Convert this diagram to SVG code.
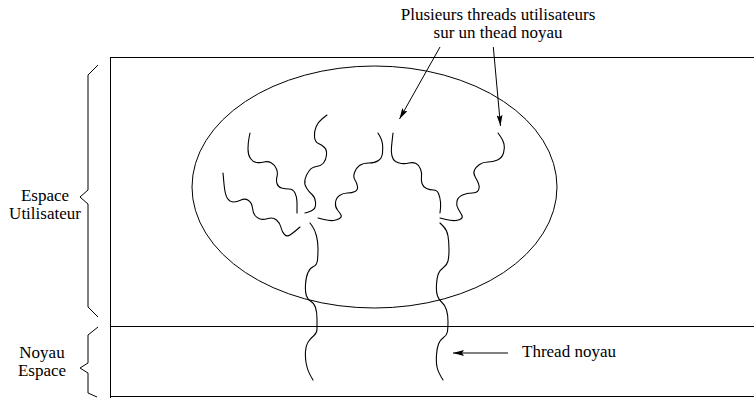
<svg xmlns="http://www.w3.org/2000/svg" width="754" height="398" viewBox="0 0 754 398">
<style>
.ln{fill:none;stroke:#000;stroke-width:1}
.th{fill:none;stroke:#000;stroke-width:1.1;stroke-linecap:round;stroke-linejoin:round}
.tx{font-family:"Liberation Serif","Times New Roman",serif;font-size:17px;fill:#000}
</style>
<defs>
<marker id="ah" markerUnits="userSpaceOnUse" viewBox="0 0 11 6" refX="11" refY="3" markerWidth="11" markerHeight="6" orient="auto">
<path d="M0,0 L11,3 L0,6 L2,3 z" fill="#000"/>
</marker>
</defs>
<rect width="754" height="398" fill="#fff"/>
<g id="frame">
<path class="ln" d="M110.5,57.5 H754 M110.5,57 V398 M110.5,326.5 H754 M110.5,396.5 H754"/>
</g>
<g id="user-space-label">
<path class="ln" d="M98,65 L88,75 L88,190 L80,197 L88,204 L88,307 L98,317"/>
<text class="tx" x="45" y="201" text-anchor="middle">Espace</text>
<text class="tx" x="45" y="219" text-anchor="middle">Utilisateur</text>
</g>
<g id="kernel-space-label">
<path class="ln" d="M98,327 L88,335 L88,363 L80,368 L88,373 L88,393 L97,397"/>
<text class="tx" x="42" y="358" text-anchor="middle">Noyau</text>
<text class="tx" x="42" y="376" text-anchor="middle">Espace</text>
</g>
<g id="process">
<ellipse class="ln" cx="374.5" cy="187" rx="182.5" ry="121"/>
</g>
<g id="user-threads">
<path class="th" d="M223,173 L224,184 Q225,195 227.5,198.5 Q230,202 233.5,202 Q237,202 241,200 Q245,198 248.5,200.5 Q252,203 252.5,208 Q253,213 255,215.5 Q257,218 260,219 Q263,220 268,218.5 Q273,217 276.5,220 Q280,223 281,227.5 Q282,232 284.5,234.5 Q287,237 290,235 Q293,233 296.5,230 L300,227"/>
<path class="th" d="M250,133 L249,138 Q248,143 248,149 Q248,155 250.5,158.5 Q253,162 256.5,162.5 Q260,163 264,162 Q268,161 271.5,163 Q275,165 276.5,169 Q278,173 277,176.5 Q276,180 277,183.5 Q278,187 281.5,188 Q285,189 289,189 Q293,189 295,193 Q297,197 297,202 Q297,207 297,213"/>
<path class="th" d="M327,115 L322.5,118.5 Q318,122 316,127 Q314,132 314.5,137 Q315,142 318.5,143.5 Q322,145 324.5,147.5 Q327,150 326.5,155 Q326,160 323.5,163 Q321,166 316.5,166.5 Q312,167 309,171 Q306,175 305,179.5 Q304,184 306.5,188 Q309,192 312,194.5 Q315,197 315.5,202 Q316,207 314,209 Q312,211 308.5,212 L305,213"/>
<path class="th" d="M378,133 L380,136.5 Q382,140 382.5,144 Q383,148 382.5,153 Q382,158 378.5,160.5 Q375,163 369,163 Q363,163 359.5,165.5 Q356,168 354.5,172.5 Q353,177 355,180 Q357,183 357.5,186.5 Q358,190 355,191.5 Q352,193 347.5,193 Q343,193 339.5,195.5 Q336,198 335.5,202.5 Q335,207 337.5,210 Q340,213 341,215 Q342,217 339.5,218.5 Q337,220 333.5,220.5 Q330,221 324,219.5 L318,218"/>
<path class="th" d="M393,133 L392.5,137.5 Q392,142 391.5,147 Q391,152 392,156 Q393,160 395.5,161.5 Q398,163 401.5,163.5 Q405,164 409,163 Q413,162 416,163.5 Q419,165 420.5,169 Q422,173 421.5,176.5 Q421,180 422,183.5 Q423,187 426.5,188.5 Q430,190 433.5,190 Q437,190 438.5,193.5 Q440,197 440.5,202 Q441,207 440,213"/>
<path class="th" d="M498,133 L500.5,136.5 Q503,140 504,144 Q505,148 503.5,153 Q502,158 497.5,160 Q493,162 488,162 Q483,162 479.5,164.5 Q476,167 474.5,170 Q473,173 475,176.5 Q477,180 478.5,183.5 Q480,187 478.5,190 Q477,193 472,193 Q467,193 462.5,195 Q458,197 457,201 Q456,205 458,208.5 Q460,212 461.5,214.5 Q463,217 461.5,218.5 Q460,220 456,220.5 Q452,221 446,219.5 L440,218"/>
</g>
<g id="kernel-threads">
<path class="th" d="M310,223 L312.5,226.5 Q315,230 316.5,236 Q318,242 318,248.5 Q318,255 317.5,260 Q317,265 313.5,266.5 Q310,268 308,272.5 Q306,277 305.5,284.5 Q305,292 306.5,296 Q308,300 311,301.5 Q314,303 315.5,307.5 Q317,312 317,318.5 Q317,325 317,329 Q317,333 314,335.5 Q311,338 308.5,341.5 Q306,345 305.5,351.5 Q305,358 306.5,365 Q308,372 313,380"/>
<path class="th" d="M440,223 L443.5,226.5 Q447,230 448,236 Q449,242 449,249.5 Q449,257 448,261 Q447,265 443.5,267.5 Q440,270 438.5,273.5 Q437,277 436.5,284.5 Q436,292 437.5,296 Q439,300 442,302.5 Q445,305 446.5,310 Q448,315 448,321.5 Q448,328 447.5,331.5 Q447,335 443.5,337.5 Q440,340 438.5,344 Q437,348 436.5,355 Q436,362 437,367 Q438,372 443,380"/>
</g>
<g id="title-label">
<text class="tx" x="498" y="20" text-anchor="middle">Plusieurs threads utilisateurs</text>
<text class="tx" x="498" y="38" text-anchor="middle">sur un thead noyau</text>
</g>
<g id="kernel-thread-label">
<text class="tx" x="522" y="357">Thread noyau</text>
</g>
<g id="connectors">
<line class="ln" x1="440" y1="47" x2="399.5" y2="119" marker-end="url(#ah)"/>
<line class="ln" x1="493.3" y1="47" x2="500.5" y2="126" marker-end="url(#ah)"/>
<line class="ln" x1="508" y1="353" x2="453" y2="353" marker-end="url(#ah)"/>
</g>
</svg>
